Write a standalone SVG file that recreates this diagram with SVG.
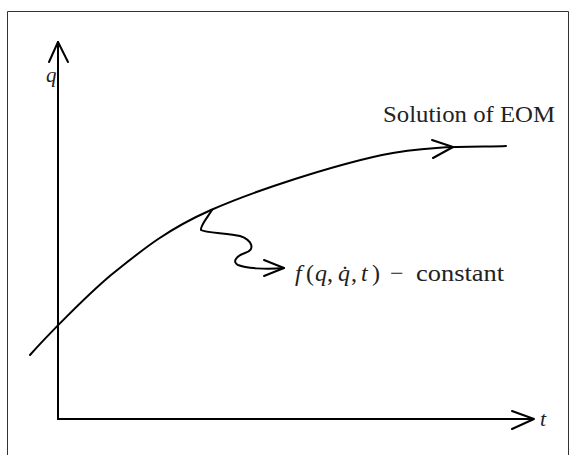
<svg xmlns="http://www.w3.org/2000/svg" width="571" height="455" viewBox="0 0 571 455">
<style>
.ln{fill:none;stroke:#000;stroke-width:2;stroke-linecap:round;stroke-linejoin:round}
.tx{font-family:"Liberation Serif","Times New Roman",serif;fill:#222}
.it{font-style:italic}
</style>
<rect x="0" y="0" width="571" height="455" fill="#fff"/>
<path d="M7.5,460 V11.5 H568.5 V460" fill="none" stroke="#333" stroke-width="1"/>
<g id="axes">
<path class="ln" d="M58,419 V42"/>
<path class="ln" d="M49,62 L58,42 L68,62"/>
<path class="ln" d="M58,419 H533"/>
<path class="ln" d="M512,411 L534,419 L512,429"/>
<text class="tx it" x="46" y="82" font-size="21">q</text>
<text class="tx it" x="540" y="426" font-size="22">t</text>
</g>
<g id="connectors">
<path class="ln" d="M30,355 C45,338 85,297 111,275 C141.2,250.8 165.8,230 211,210 C256.2,190 332.8,165.7 382,155 C431.2,144.3 485.3,147.5 506,146"/>
<path class="ln" d="M432,140 L453,147 L433,158"/>
<path class="ln" d="M212,210 C207,218 200,226 201,230 C205,233 230,233 240,236 C252,240 256,250 245,253 C236,256 232,262 238,265 C245,268 265,270 284,268"/>
<path class="ln" d="M264,260 L284,268 L264,276"/>
</g>
<g id="label-eom">
<text class="tx" x="383" y="122" font-size="24" textLength="172" lengthAdjust="spacingAndGlyphs">Solution of EOM</text>
</g>
<g id="label-f">
<text class="tx" y="281" font-size="24"><tspan class="it" x="295">f</tspan><tspan x="306">(</tspan><tspan class="it" x="315">q</tspan><tspan x="327">,</tspan><tspan class="it" x="338">q̇</tspan><tspan x="351">,</tspan><tspan class="it" x="361">t</tspan><tspan x="372">)</tspan><tspan x="390">−</tspan><tspan x="416" textLength="88" lengthAdjust="spacingAndGlyphs">constant</tspan></text>
</g>
</svg>
